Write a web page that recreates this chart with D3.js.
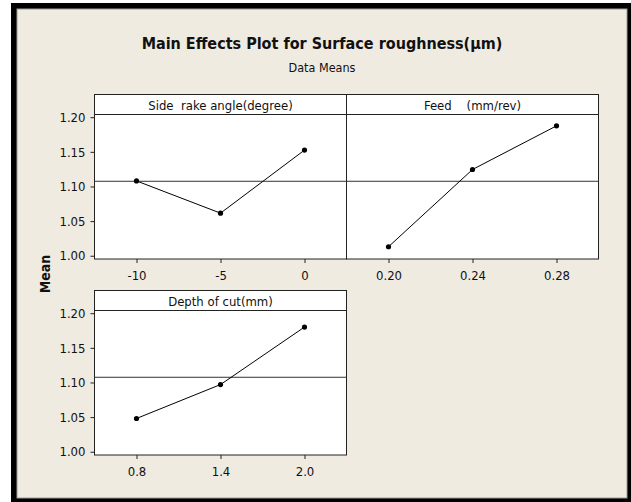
<!DOCTYPE html>
<html>
<head>
<meta charset="utf-8">
<script src="https://cdn.jsdelivr.net/npm/d3@7"></script>
<style>
	body { margin: 0; background: #fff; }
	svg text { font-family: "DejaVu Sans Condensed", "DejaVu Sans", sans-serif; fill: #111; }
</style>
</head>
<body>
<svg id="chart"></svg>
<script>
// Main effects data (means per level)
var factorNames = ['Side  rake angle(degree)', 'Feed    (mm/rev)', 'Depth of cut(mm)'];
var sideRakeLevels = ['-10', '-5', '0'];
var sideRakeMeans = [1.108, 1.0615, 1.1525];
var feedLevels = ['0.20', '0.24', '0.28'];
var feedMeans = [1.013, 1.1245, 1.1875];
var depthLevels = ['0.8', '1.4', '2.0'];
var depthMeans = [1.048, 1.097, 1.180];
var yTicks = [1.00, 1.05, 1.10, 1.15, 1.20];
var grandMean = 1.1075;

var width = 631;
var height = 502;

var svg = d3.select('#chart')
	.attr('width', width)
	.attr('height', height);

// frame
svg.append('rect')
	.attr('x', 11).attr('y', 3)
	.attr('width', width - 11).attr('height', height - 3)
	.attr('fill', '#000');
svg.append('rect')
	.attr('x', 17).attr('y', 9)
	.attr('width', 610).attr('height', 489)
	.attr('fill', '#efebe1')
	.attr('stroke', '#9a9a9a')
	.attr('stroke-width', 1);

svg.append('text')
	.attr('x', 322).attr('y', 49)
	.attr('text-anchor', 'middle')
	.style('font-size', '16px')
	.style('font-weight', 'bold')
	.text('Main Effects Plot for Surface roughness(\u00b5m)');

svg.append('text')
	.attr('x', 322).attr('y', 71.5)
	.attr('text-anchor', 'middle')
	.style('font-size', '12.5px')
	.text('Data Means');

svg.append('text')
	.attr('transform', 'translate(50,274) rotate(-90)')
	.attr('text-anchor', 'middle')
	.style('font-size', '14px')
	.style('font-weight', 'bold')
	.text('Mean');

var panelW = 252;
var plotH = 144.5;
var stripH = 20;

var y = d3.scaleLinear().domain([0.9953, 1.2039]).range([plotH, 0]);

var panels = [
	{ name: factorNames[0], levels: sideRakeLevels, means: sideRakeMeans, x0: 94.5, y0: 94.5, yAxis: true },
	{ name: factorNames[1], levels: feedLevels, means: feedMeans, x0: 346.5, y0: 94.5, yAxis: false },
	{ name: factorNames[2], levels: depthLevels, means: depthMeans, x0: 94.5, y0: 290.5, yAxis: true }
];

panels.forEach(function(p) {
	var g = svg.append('g')
		.attr('transform', 'translate(' + p.x0 + ',' + p.y0 + ')');

	// strip header
	g.append('rect')
		.attr('width', panelW).attr('height', stripH)
		.attr('fill', '#fff')
		.attr('stroke', '#222');
	g.append('text')
		.attr('x', panelW / 2).attr('y', stripH - 4.5)
		.attr('text-anchor', 'middle')
		.style('font-size', '13px')
		.style('white-space', 'pre')
		.attr('xml:space', 'preserve')
		.text(p.name);

	var plot = g.append('g')
		.attr('transform', 'translate(0,' + stripH + ')');

	plot.append('rect')
		.attr('width', panelW).attr('height', plotH)
		.attr('fill', '#fff')
		.attr('stroke', '#222');

	var x = d3.scalePoint().domain(p.levels).range([0, panelW]).padding(0.5);

	// reference line at overall mean
	plot.append('line')
		.attr('x1', 0).attr('x2', panelW)
		.attr('y1', y(grandMean)).attr('y2', y(grandMean))
		.attr('stroke', '#333')
		.attr('stroke-width', 1);

	var pts = p.levels.map(function(l, i) {
		return { level: l, mean: p.means[i] };
	});

	plot.append('path')
		.datum(pts)
		.attr('fill', 'none')
		.attr('stroke', '#000')
		.attr('stroke-width', 1)
		.attr('d', d3.line()
			.x(function(d) { return x(d.level); })
			.y(function(d) { return y(d.mean); }));

	plot.selectAll('.dot').data(pts)
		.enter()
		.append('circle')
		.attr('cx', function(d) { return x(d.level); })
		.attr('cy', function(d) { return y(d.mean); })
		.attr('r', 2.6)
		.attr('fill', '#000');

	var xAxis = plot.append('g')
		.attr('transform', 'translate(0,' + plotH + ')')
		.call(d3.axisBottom(x).tickSize(4).tickPadding(7.5));
	xAxis.select('.domain').remove();
	xAxis.selectAll('text').style('font-size', '13px').attr('fill', '#111');
	xAxis.selectAll('line').attr('stroke', '#222');

	if (p.yAxis) {
		var yAxis = plot.append('g')
			.call(d3.axisLeft(y).tickValues(yTicks).tickFormat(d3.format('.2f')).tickSize(4).tickPadding(5));
		yAxis.select('.domain').remove();
		yAxis.selectAll('text').style('font-size', '13px').attr('fill', '#111');
		yAxis.selectAll('line').attr('stroke', '#222');
	}
});
</script>
</body>
</html>
